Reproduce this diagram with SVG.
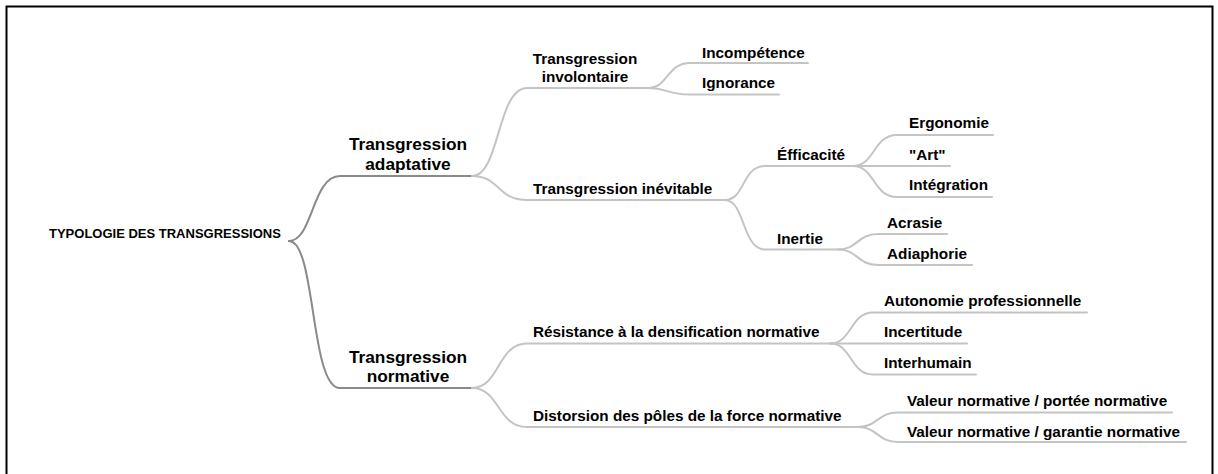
<svg xmlns="http://www.w3.org/2000/svg" width="1218" height="474" viewBox="0 0 1218 474">
<style>
text{font-family:"Liberation Sans",Arial,sans-serif;font-weight:bold;fill:#000}
.root{font-size:13px}
.l1{font-size:17.3px;text-anchor:middle}
.n{font-size:15.3px}
.c{font-size:15.3px;text-anchor:middle}
.dark{fill:none;stroke:#8a8a8a;stroke-width:2;stroke-linecap:round}
.lite{fill:none;stroke:#c4c4c4;stroke-width:2;stroke-linecap:round}
</style>
<rect x="6.5" y="6.5" width="1206" height="490" fill="#fff" stroke="#000" stroke-width="2"/>
<g id="connectors">
<path class="dark" d="M289,241 C313,241 312,176 340,176 L472,176"/>
<path class="dark" d="M289,241 C316,241 310,388 340,388 L472,388"/>
<path class="lite" d="M472,176 C500,176 497,88 527,88 L648,88"/>
<path class="lite" d="M472,176 C500,176 497,200 527,200 L725,200"/>
<path class="lite" d="M648,88 C668,88 667,63 690,63 L808,63"/>
<path class="lite" d="M648,88 C668,88 667,94.5 690,94.5 L779,94.5"/>
<path class="lite" d="M725,200 C745,200 742,166 765,166 L853,166"/>
<path class="lite" d="M725,200 C745,200 742,249.5 765,249.5 L838,249.5"/>
<path class="lite" d="M853,166 C875,166 873,135 897,135 L993,135"/>
<path class="lite" d="M853,166 L950,166"/>
<path class="lite" d="M853,166 C875,166 873,197 897,197 L992,197"/>
<path class="lite" d="M838,249.5 C858,249.5 857,234 878,234 L947,234"/>
<path class="lite" d="M838,249.5 C858,249.5 857,265 878,265 L972,265"/>
<path class="lite" d="M472,388 C500,388 497,343.5 527,343.5 L830,343.5"/>
<path class="lite" d="M472,388 C500,388 497,427 527,427 L858,427"/>
<path class="lite" d="M830,343.5 C852,343.5 850,312.5 873,312.5 L1087,312.5"/>
<path class="lite" d="M830,343.5 L967,343.5"/>
<path class="lite" d="M830,343.5 C852,343.5 850,374.5 873,374.5 L976,374.5"/>
<path class="lite" d="M858,427 C878,427 877,412.5 898,412.5 L1172,412.5"/>
<path class="lite" d="M858,427 C878,427 877,442 898,442 L1186,442"/>
</g>
<g id="root"><text class="root" x="49" y="238">TYPOLOGIE DES TRANSGRESSIONS</text></g>
<g id="adaptative"><text class="l1" x="408" y="150">Transgression</text><text class="l1" x="408" y="169.5">adaptative</text></g>
<g id="normative"><text class="l1" x="408" y="363">Transgression</text><text class="l1" x="408" y="381.5">normative</text></g>
<g id="involontaire"><text class="c" x="585" y="64">Transgression</text><text class="c" x="585" y="82">involontaire</text></g>
<g id="incompetence"><text class="n" x="702" y="58">Incompétence</text></g>
<g id="ignorance"><text class="n" x="702" y="87.5">Ignorance</text></g>
<g id="inevitable"><text class="n" x="533" y="194">Transgression inévitable</text></g>
<g id="efficacite"><text class="n" x="777" y="160">Éfficacité</text></g>
<g id="ergonomie"><text class="n" x="909" y="128">Ergonomie</text></g>
<g id="art"><text class="n" x="909" y="160">"Art"</text></g>
<g id="integration"><text class="n" x="909" y="190">Intégration</text></g>
<g id="inertie"><text class="n" x="777" y="244">Inertie</text></g>
<g id="acrasie"><text class="n" x="887" y="227.5">Acrasie</text></g>
<g id="adiaphorie"><text class="n" x="887" y="259">Adiaphorie</text></g>
<g id="resistance"><text class="n" x="533" y="337">Résistance à la densification normative</text></g>
<g id="autonomie"><text class="n" x="884" y="305.5">Autonomie professionnelle</text></g>
<g id="incertitude"><text class="n" x="884" y="337.3">Incertitude</text></g>
<g id="interhumain"><text class="n" x="884" y="368.3">Interhumain</text></g>
<g id="distorsion"><text class="n" x="533" y="421">Distorsion des pôles de la force normative</text></g>
<g id="valeur-portee"><text class="n" x="907" y="405.7">Valeur normative / portée normative</text></g>
<g id="valeur-garantie"><text class="n" x="907" y="436.7">Valeur normative / garantie normative</text></g>
</svg>
